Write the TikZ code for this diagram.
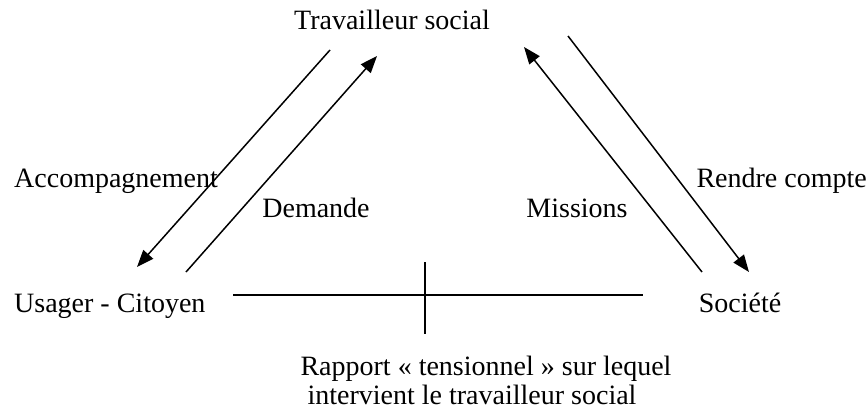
\documentclass[tikz,border=0pt]{standalone}
\usepackage{fontspec}
\setmainfont{Liberation Serif}
\usetikzlibrary{arrows.meta}

\begin{document}
\begin{tikzpicture}[x=1pt,y=-1pt,
        txt/.style={font=\fontsize{28}{30}\selectfont, inner sep=0pt, anchor=base},
        flow/.style={line width=1.5pt, -{Triangle[length=17pt,width=13pt]}},
        crossline/.style={line width=2pt}]
    \useasboundingbox (0,0) rectangle (867,412);

    % actors
    \node[txt] (travailleur) at (392,30) {Travailleur social};
    \node[txt, anchor=base west] (usager) at (14,312) {Usager - Citoyen};
    \node[txt] (societe) at (740,312) {Société};

    % flow labels
    \node[txt, anchor=base west] (accomp) at (14,187) {Accompagnement};
    \node[txt] (demande) at (316,217) {Demande};
    \node[txt] (missions) at (577,217) {Missions};
    \node[txt, anchor=base east] (rendre) at (867,187) {Rendre compte};

    % rapport tensionnel
    \node[txt] (rapport) at (486,375) {Rapport « tensionnel » sur lequel};
    \node[txt] (intervient) at (472,404) {intervient le travailleur social};

    % arrow ends
    \coordinate (accompA) at (330,50);
    \coordinate (accompB) at (137,267);
    \coordinate (demandeA) at (186,272);
    \coordinate (demandeB) at (377,56);
    \coordinate (missionsA) at (702,272);
    \coordinate (missionsB) at (524,47);
    \coordinate (rendreA) at (568,36);
    \coordinate (rendreB) at (749,272);
    \coordinate (lineW) at (233,295);
    \coordinate (lineE) at (643,295);
    \coordinate (crossN) at (425,262);
    \coordinate (crossS) at (425,334);

    \draw[flow] (accompA) -- (accompB);
    \draw[flow] (demandeA) -- (demandeB);
    \draw[flow] (missionsA) -- (missionsB);
    \draw[flow] (rendreA) -- (rendreB);
    \draw[crossline] (lineW) -- (lineE);
    \draw[crossline] (crossN) -- (crossS);
\end{tikzpicture}
\end{document}
